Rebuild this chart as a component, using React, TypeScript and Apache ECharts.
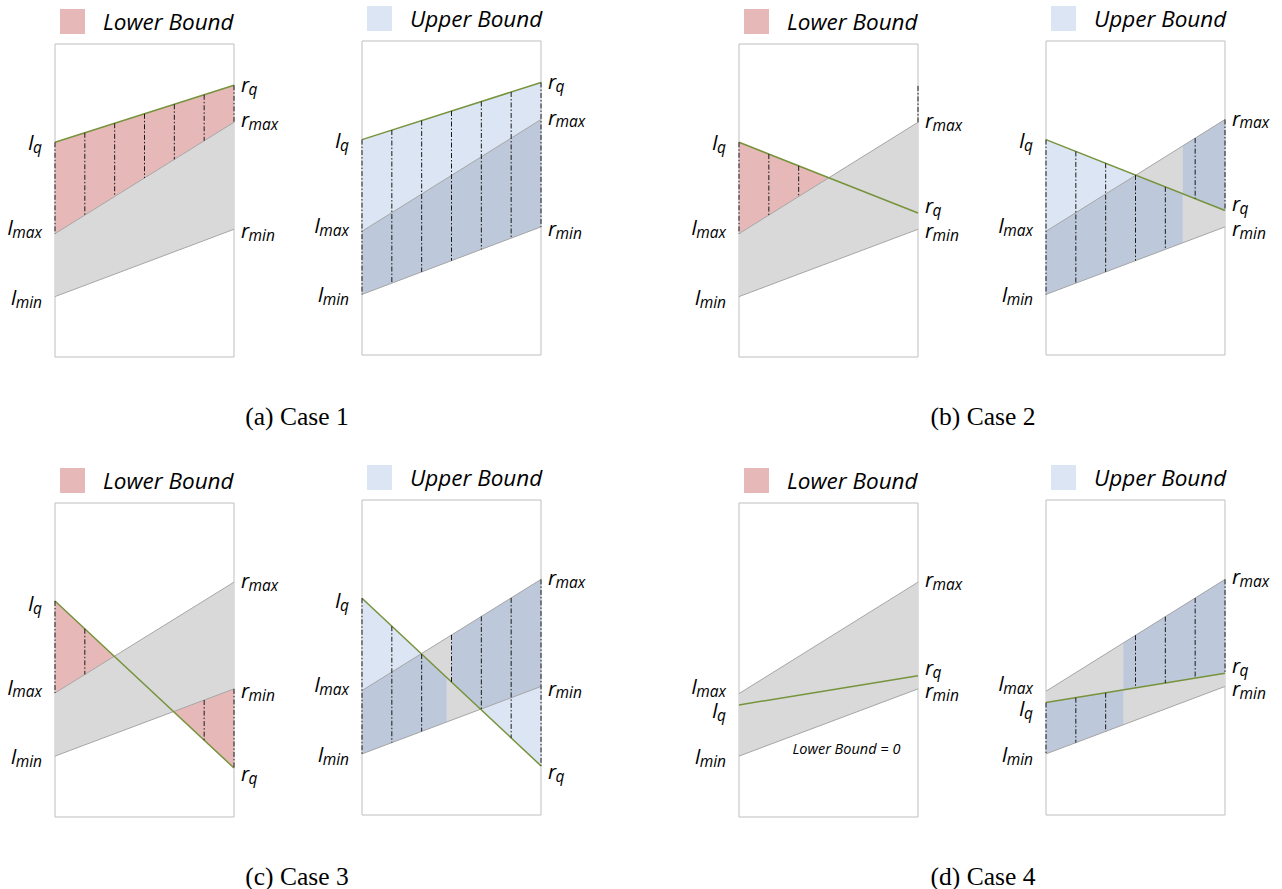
import React, { useEffect, useRef } from "react";
import * as echarts from "echarts";

// ---------- data ----------
const caseNames = ["(a) Case 1", "(b) Case 2", "(c) Case 3", "(d) Case 4"];
const boundNames = ["Lower Bound", "Upper Bound"];
// line end values (x = 0 left edge, x = 1 right edge), y in % of panel height
const lMax = [39.4, 39.4, 39.5, 39.3];
const rMax = [75.0, 75.0, 74.8, 74.8];
const lMin = [19.3, 19.3, 19.4, 19.4];
const rMin = [40.8, 40.8, 40.8, 40.8];
const lQ = [68.6, 68.6, 68.8, 35.7];
const rQ = [86.8, 46.0, 15.6, 45.0];
// shaded regions: [xFrom, xTo, upper line, lower line]
const lowerRegions: any[][] = [
  [[0, 1, "q", "max"]],
  [[0, 1, "q", "max"]],
  [[0, 1, "q", "max"], [0, 1, "min", "q"]],
  [],
];
const upperRegions: any[][] = [
  [[0, 1, "q", "min"]],
  [[0, 0.764, "q", "min"], [0.764, 1, "max", "q"]],
  [[0, 0.473, "q", "min"], [0.5, 1, "max", "q"]],
  [[0, 0.432, "q", "min"], [0.432, 1, "max", "q"]],
];
// extra dash-dot segments in lower-bound panels: [x, yFrom, yTo]
const lowerExtraSegments: number[][][] = [[], [[1, 86.6, 75.0]], [], []];
// x positions of the dash-dot hatch lines
const hatchSteps = [0, 1 / 6, 2 / 6, 3 / 6, 4 / 6, 5 / 6, 1];
// annotation inside the lower-bound panel of case 4: [x, y, text]
const lowerNotes: any[][] = [[], [], [], [[0.6, 21.9, "Lower Bound = 0"]]];
const labelKeys = ["q", "max", "min"];

// ---------- layout / style ----------
const panelBoxes = [
  [55, 44, 179, 313], [362, 41, 179, 314],
  [739, 44, 179, 313], [1046, 41, 179, 314],
  [55, 503, 179, 314], [362, 500, 179, 315],
  [739, 503, 179, 314], [1046, 500, 179, 315],
];
// baseline drop (px) of labels below the line end: [lq, lmax, lmin, rq, rmax, rmin]
const labelBaseline = [
  [8, 1.5, 8, 7, 5, 9],
  [8, 1.5, 8, 0, 6, 9],
  [10, 1.5, 8, 13, 6, 9],
  [13.5, 0, 8, -0.5, 5, 9.5],
];
const captionCenters = [[297, 416], [983, 416], [297, 876], [983, 876]];

const FONT = '"Open Sans", "DejaVu Sans", sans-serif';
const SERIF = '"Liberation Serif", "Times New Roman", serif';
const GRAY_FILL = "#d9d9d9";
const GRAY_LINE = "#a6a6a6";
const RED = "#e6b9b8";
const BLUE = "#dbe5f3";
const DARK = "#bdc9db";
const GREEN = "#77933c";
const BOX = "#bfbfbf";
const HATCH = "#1a1a1a";
const MAIN_SIZE = 20.5;
const SUB_SIZE = 15.5;
const LEGEND_SIZE = 22.5;

let measureCtx: CanvasRenderingContext2D | null = null;
function textW(s: string, size: number) {
  if (!measureCtx) measureCtx = document.createElement("canvas").getContext("2d");
  if (!measureCtx) return s.length * size * 0.5;
  measureCtx.font = `italic ${size}px ${FONT}`;
  return measureCtx.measureText(s).width;
}

function lineVal(c: number, k: string, x: number) {
  const l = k === "q" ? lQ[c] : k === "max" ? lMax[c] : lMin[c];
  const r = k === "q" ? rQ[c] : k === "max" ? rMax[c] : rMin[c];
  return l + (r - l) * x;
}

function sampleXs(c: number, x0: number, x1: number) {
  const xs: number[] = [];
  const n = 120;
  for (let i = 0; i <= n; i++) xs.push(x0 + ((x1 - x0) * i) / n);
  const keys = ["q", "max", "min"];
  for (let i = 0; i < 3; i++)
    for (let j = i + 1; j < 3; j++) {
      const a0 = lineVal(c, keys[i], 0), a1 = lineVal(c, keys[i], 1);
      const b0 = lineVal(c, keys[j], 0), b1 = lineVal(c, keys[j], 1);
      const den = (a1 - a0) - (b1 - b0);
      if (Math.abs(den) > 1e-9) {
        const t = (b0 - a0) / den;
        if (t > x0 && t < x1) xs.push(t);
      }
    }
  return xs.sort((a, b) => a - b);
}

function buildPanel(c: number, kind: number, api: any) {
  const P = (x: number, y: number) => api.coord([x, y]);
  const children: any[] = [];
  const poly = (xs: number[], top: number[], bot: number[], fill: string) => {
    const pts: number[][] = [];
    xs.forEach((x, i) => pts.push(P(x, top[i])));
    for (let i = xs.length - 1; i >= 0; i--) pts.push(P(xs[i], bot[i]));
    return { type: "polygon", shape: { points: pts }, style: { fill }, silent: true };
  };
  const seg = (xa: number, ya: number, xb: number, yb: number, style: any) => {
    const a = P(xa, ya), b = P(xb, yb);
    return { type: "line", shape: { x1: a[0], y1: a[1], x2: b[0], y2: b[1] }, style, silent: true };
  };

  // band fill
  children.push(poly([0, 1], [lMax[c], rMax[c]], [lMin[c], rMin[c]], GRAY_FILL));

  const regions = kind === 0 ? lowerRegions[c] : upperRegions[c];
  const fill = kind === 0 ? RED : BLUE;
  regions.forEach((r: any[]) => {
    const [x0, x1, tk, bk] = r;
    const xs = sampleXs(c, x0, x1);
    const top = xs.map((x) => lineVal(c, tk, x));
    const bot = xs.map((x, i) => Math.min(lineVal(c, bk, x), top[i]));
    children.push(poly(xs, top, bot, fill));
    if (kind === 1) {
      const t2 = xs.map((x, i) => Math.min(top[i], lineVal(c, "max", x)));
      const b2 = xs.map((x, i) => Math.min(Math.max(bot[i], lineVal(c, "min", x)), t2[i]));
      children.push(poly(xs, t2, b2, DARK));
    }
  });

  // band edges and q line
  children.push(seg(0, lMax[c], 1, rMax[c], { stroke: GRAY_LINE, lineWidth: 1 }));
  children.push(seg(0, lMin[c], 1, rMin[c], { stroke: GRAY_LINE, lineWidth: 1 }));
  children.push(seg(0, lQ[c], 1, rQ[c], { stroke: GREEN, lineWidth: 1.5 }));

  // hatch lines
  const hatchStyle = { stroke: HATCH, lineWidth: 1, lineDash: [5, 2, 1.5, 2] };
  regions.forEach((r: any[]) => {
    const [x0, x1, tk, bk] = r;
    hatchSteps.forEach((h) => {
      if (h < x0 - 1e-6 || h > x1 + 1e-6) return;
      const t = lineVal(c, tk, h);
      const b = Math.min(lineVal(c, bk, h), t);
      if (t - b > 0.5) children.push(seg(h, t, h, b, hatchStyle));
    });
  });
  if (kind === 0) {
    lowerExtraSegments[c].forEach((s) => children.push(seg(s[0], s[1], s[0], s[2], hatchStyle)));
    lowerNotes[c].forEach((n) => {
      const p = P(n[0], n[1]);
      children.push({
        type: "text", x: p[0], y: p[1], silent: true,
        style: { text: n[2], font: `italic 14.5px ${FONT}`, fill: "#000", lineHeight: 15,
          align: "center", verticalAlign: "middle", textAlign: "center", textVerticalAlign: "middle" },
      });
    });
  }

  // labels
  const txt = (s: string, x: number, y: number, size: number) => ({
    type: "text", x, y, silent: true,
    style: { text: s, font: `italic ${size}px ${FONT}`, fill: "#000", lineHeight: size,
      align: "left", verticalAlign: "middle", textAlign: "left", textVerticalAlign: "middle" },
  });
  labelKeys.forEach((k, i) => {
    // left
    const pl = P(0, lineVal(c, k, 0));
    const baseL = pl[1] + labelBaseline[c][i];
    const subW = textW(k, SUB_SIZE);
    const mainW = textW("l", MAIN_SIZE);
    const xR = pl[0] - 13;
    children.push(txt("l", xR - subW - mainW + 0.5, baseL - 0.388 * MAIN_SIZE, MAIN_SIZE));
    children.push(txt(k, xR - subW, baseL + 3 - 0.388 * SUB_SIZE, SUB_SIZE));
    // right
    const pr = P(1, lineVal(c, k, 1));
    const baseR = pr[1] + labelBaseline[c][3 + i];
    const mainWr = textW("r", MAIN_SIZE);
    const xL = pr[0] + 7;
    children.push(txt("r", xL, baseR - 0.388 * MAIN_SIZE, MAIN_SIZE));
    children.push(txt(k, xL + mainWr - 0.5, baseR + 3 - 0.388 * SUB_SIZE, SUB_SIZE));
  });

  return { type: "group", children };
}

export default function App() {
  const ref = useRef<HTMLDivElement>(null);
  useEffect(() => {
    if (!ref.current) return;
    const chart = echarts.init(ref.current, null, { renderer: "svg" });
    const grids: any[] = [], xAxes: any[] = [], yAxes: any[] = [], series: any[] = [], graphics: any[] = [];
    panelBoxes.forEach((b, p) => {
      const c = Math.floor(p / 2), kind = p % 2;
      grids.push({ left: b[0], top: b[1], width: b[2], height: b[3], show: true,
        borderColor: BOX, borderWidth: 1, backgroundColor: "transparent",
        containLabel: false, outerBoundsMode: "none" });
      xAxes.push({ type: "value", gridIndex: p, min: 0, max: 1, show: false });
      yAxes.push({ type: "value", gridIndex: p, min: 0, max: 100, show: false });
      series.push({
        type: "custom", coordinateSystem: "cartesian2d", xAxisIndex: p, yAxisIndex: p,
        data: [[0, 0]], silent: true, clip: false, z: 2,
        renderItem: (_params: any, api: any) => buildPanel(c, kind, api),
      });
      // legend swatch and text
      graphics.push({ type: "rect", shape: { x: b[0] + 5, y: b[1] - 35, width: 25, height: 25 },
        style: { fill: kind === 0 ? RED : BLUE }, silent: true });
      graphics.push({ type: "text", x: b[0] + 48, y: b[1] - 14 - 0.388 * LEGEND_SIZE, silent: true,
        style: { text: boundNames[kind], font: `italic ${LEGEND_SIZE}px ${FONT}`, fill: "#000",
          align: "left", verticalAlign: "middle", textAlign: "left", textVerticalAlign: "middle" } });
    });
    caseNames.forEach((n, i) => {
      graphics.push({ type: "text", x: captionCenters[i][0], y: captionCenters[i][1], silent: true,
        style: { text: n, font: `25.5px ${SERIF}`, fill: "#000",
          align: "center", verticalAlign: "middle", textAlign: "center", textVerticalAlign: "middle" } });
    });
    chart.setOption({
      animation: false,
      backgroundColor: "#ffffff",
      grid: grids, xAxis: xAxes, yAxis: yAxes, series, graphic: graphics,
    });
    return () => chart.dispose();
  }, []);
  return <div ref={ref} style={{ position: "absolute", left: 0, top: 0, width: 1282, height: 889 }} />;
}
